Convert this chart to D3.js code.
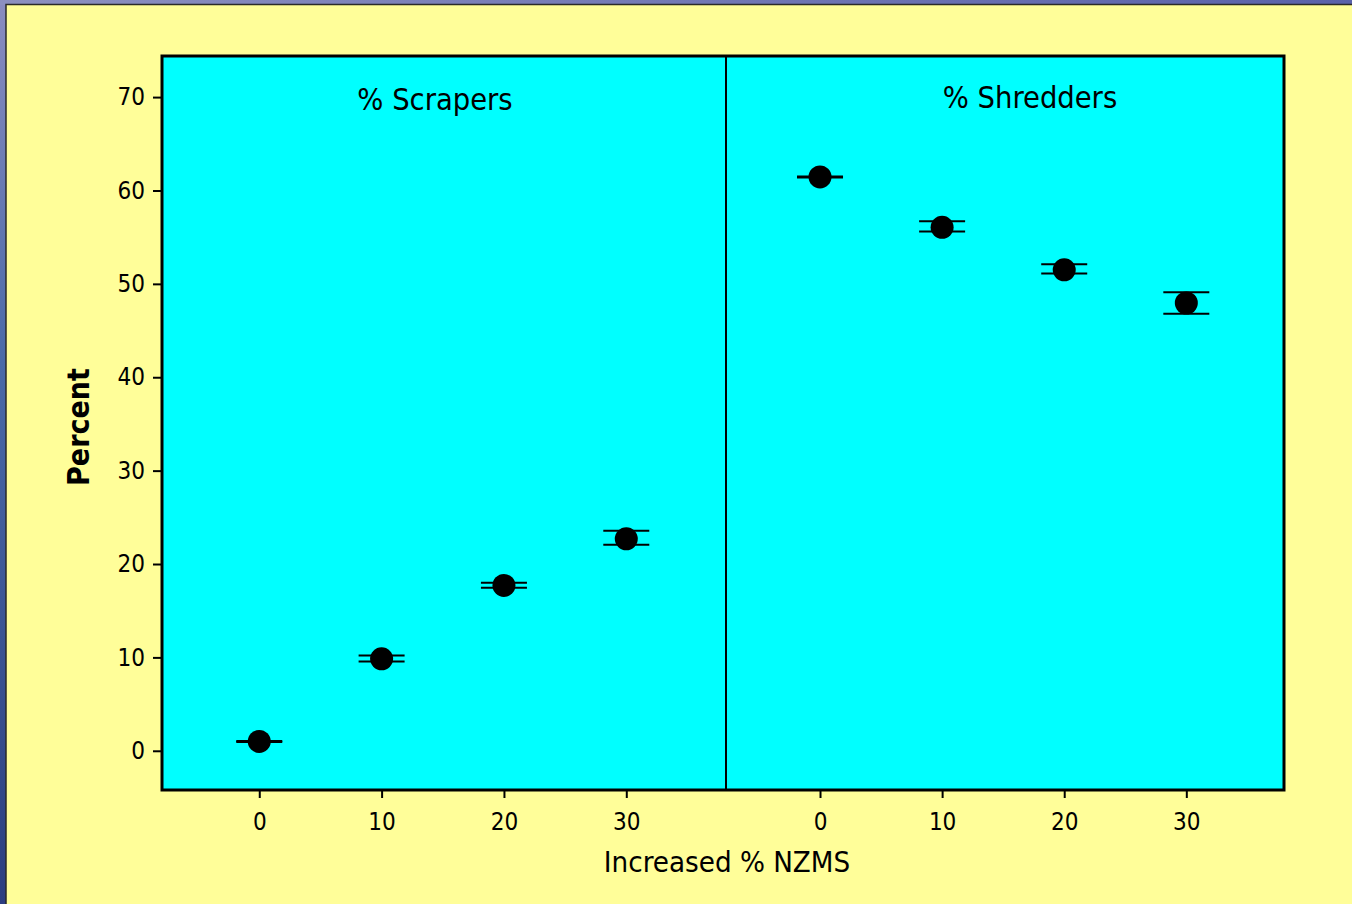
<!DOCTYPE html>
<html>
<head>
<meta charset="utf-8">
<script src="https://cdn.jsdelivr.net/npm/d3@7"></script>
<style>
  html, body { margin: 0; padding: 0; background: #fffe99; }
  svg { display: block; }
  text { font-family: "DejaVu Sans Condensed", "DejaVu Sans", sans-serif; fill: #000; }
</style>
</head>
<body>
<svg id="chart" width="1352" height="904"></svg>
<script>
// Two panels: percentage of scrapers and shredders vs. increased NZMS share
const levels = [0, 10, 20, 30];

const scrapersMean  = [1.0, 9.85, 17.7, 22.7];
const scrapersLow   = [0.95, 9.55, 17.45, 22.05];
const scrapersHigh  = [1.05, 10.2, 18.0, 23.55];

const shreddersMean = [61.45, 56.05, 51.5, 47.95];
const shreddersLow  = [61.4, 55.6, 51.1, 46.8];
const shreddersHigh = [61.5, 56.7, 52.1, 49.1];

const yTicks = [0, 10, 20, 30, 40, 50, 60, 70];
const xTicks = [0, 10, 20, 30];
const panelTitles = ["% Scrapers", "% Shredders"];
const xTitle = "Increased % NZMS";
const yTitle = "Percent";

const svg = d3.select("#chart");
const W = 1352, H = 904;

// slide backdrop: blue textured edge with a pale yellow page
const defs = svg.append("defs");
const gL = defs.append("linearGradient").attr("id", "edgeL").attr("x1", 0).attr("y1", 0).attr("x2", 0).attr("y2", 1);
gL.append("stop").attr("offset", "0%").attr("stop-color", "#8a8cc0");
gL.append("stop").attr("offset", "40%").attr("stop-color", "#4a6aa8");
gL.append("stop").attr("offset", "100%").attr("stop-color", "#2c3e80");
const gT = defs.append("linearGradient").attr("id", "edgeT").attr("x1", 0).attr("y1", 0).attr("x2", 1).attr("y2", 0);
gT.append("stop").attr("offset", "0%").attr("stop-color", "#8c90c0");
gT.append("stop").attr("offset", "100%").attr("stop-color", "#5a62aa");

svg.append("rect").attr("x", 0).attr("y", 0).attr("width", W).attr("height", H).attr("fill", "url(#edgeL)");
svg.append("rect").attr("x", 0).attr("y", 0).attr("width", W).attr("height", 5).attr("fill", "url(#edgeT)");
svg.append("rect").attr("x", 6).attr("y", 4.5).attr("width", W).attr("height", H)
  .attr("fill", "#fffe99").attr("stroke", "#2a2a2a").attr("stroke-width", 1.5);

// plot frame
const plotTop = 56, plotBottom = 790;
const panels = [
  { x0: 162, x1: 726, domain: [-7.95, 38.15], mean: scrapersMean, lo: scrapersLow, hi: scrapersHigh, title: panelTitles[0], tx: 435, ty: 110 },
  { x0: 726, x1: 1284, domain: [-7.7, 38.0], mean: shreddersMean, lo: shreddersLow, hi: shreddersHigh, title: panelTitles[1], tx: 1030, ty: 108 }
];

const y = d3.scaleLinear().domain([-4.2, 74.4]).range([plotBottom, plotTop]);

svg.append("rect")
  .attr("x", panels[0].x0).attr("y", plotTop)
  .attr("width", panels[1].x1 - panels[0].x0).attr("height", plotBottom - plotTop)
  .attr("fill", "#00ffff");

const capHalf = 23, radius = 11.5;

panels.forEach(p => {
  const x = d3.scaleLinear().domain(p.domain).range([p.x0, p.x1]);
  const g = svg.append("g");

  // panel title
  g.append("text").attr("x", p.tx).attr("y", p.ty)
    .attr("text-anchor", "middle").attr("font-size", 30.5).text(p.title);

  // bottom axis
  const ax = svg.append("g").attr("transform", `translate(0,${plotBottom})`)
    .call(d3.axisBottom(x).tickValues(xTicks).tickSize(8).tickPadding(15).tickSizeOuter(0));
  ax.select(".domain").remove();
  ax.selectAll(".tick line").attr("stroke", "#000").attr("stroke-width", 2);
  ax.selectAll(".tick text").attr("font-size", 24).attr("font-family", null);

  // error bars with caps, then filled points
  levels.forEach((lv, i) => {
    const cx = x(lv);
    g.append("line").attr("x1", cx).attr("x2", cx).attr("y1", y(p.lo[i])).attr("y2", y(p.hi[i]))
      .attr("stroke", "#000").attr("stroke-width", 2);
    [p.lo[i], p.hi[i]].forEach(v => {
      g.append("line").attr("x1", cx - capHalf).attr("x2", cx + capHalf)
        .attr("y1", y(v)).attr("y2", y(v)).attr("stroke", "#000").attr("stroke-width", 2);
    });
    g.append("circle").attr("cx", cx).attr("cy", y(p.mean[i])).attr("r", radius).attr("fill", "#000");
  });
});

// left axis
const ay = svg.append("g").attr("transform", `translate(${panels[0].x0},0)`)
  .call(d3.axisLeft(y).tickValues(yTicks).tickSize(9).tickPadding(8).tickSizeOuter(0));
ay.select(".domain").remove();
ay.selectAll(".tick line").attr("stroke", "#000").attr("stroke-width", 2);
ay.selectAll(".tick text").attr("font-size", 24).attr("font-family", null);

// frame and divider
svg.append("rect")
  .attr("x", panels[0].x0).attr("y", plotTop)
  .attr("width", panels[1].x1 - panels[0].x0).attr("height", plotBottom - plotTop)
  .attr("fill", "none").attr("stroke", "#000").attr("stroke-width", 3);
svg.append("line").attr("x1", panels[0].x1).attr("x2", panels[0].x1).attr("y1", plotTop).attr("y2", plotBottom)
  .attr("stroke", "#000").attr("stroke-width", 2);

// axis titles
svg.append("text").attr("x", 727).attr("y", 872).attr("text-anchor", "middle")
  .attr("font-size", 29.2).text(xTitle);
svg.append("text").attr("transform", "translate(89,427) rotate(-90)").attr("text-anchor", "middle")
  .attr("font-size", 30).attr("font-weight", "bold").text(yTitle);
</script>
</body>
</html>
